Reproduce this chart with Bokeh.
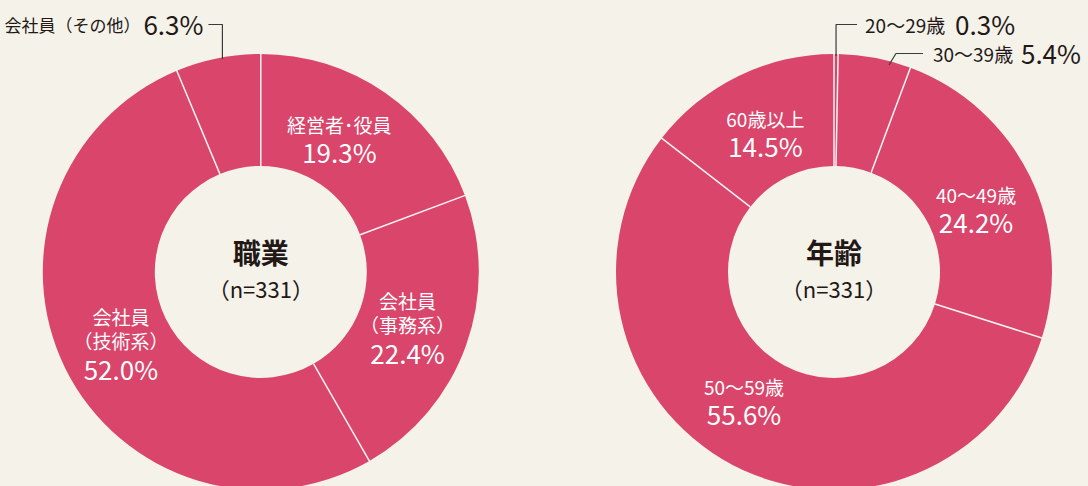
import numpy as np
from bokeh.plotting import figure
from bokeh.models import Range1d
from bokeh.core.properties import value
from bokeh.embed import file_html
from bokeh.resources import INLINE

# ---- data ----
job_names = [["経営者･役員"], ["会社員", "（事務系）"], ["会社員", "（技術系）"], ["会社員（その他）"]]
job_values = [19.3, 22.4, 52.0, 6.3]
age_names = [["20～29歳"], ["30～39歳"], ["40～49歳"], ["50～59歳"], ["60歳以上"]]
age_values = [0.3, 5.4, 24.2, 55.6, 14.5]
titles = ["職業", "年齢"]
n_text = "（n=331）"

BG = "#F5F2EA"
PINK = "#D9456B"
DARK = "#231816"
FONT = "Noto Sans CJK JP"

W, H = 1088, 486
p = figure(width=W, height=H, x_range=Range1d(0, W), y_range=Range1d(0, H),
           output_backend="svg", toolbar_location=None, min_border=0,
           background_fill_color=BG, border_fill_color=BG, outline_line_color=None)
p.axis.visible = False
p.grid.visible = False


def sy(y):
    return H - y


R_OUT, R_IN = 218, 106
LABEL_R = 156


def donut(cx, cy_screen, names, values, title, inside_idx, nudge):
    cy = sy(cy_screen)
    v = np.array(values, dtype=float)
    frac = v / v.sum()
    c1 = np.cumsum(frac)
    c0 = c1 - frac
    start = np.pi / 2 - 2 * np.pi * c0
    end = np.pi / 2 - 2 * np.pi * c1
    p.annular_wedge(x=[cx] * len(v), y=[cy] * len(v), inner_radius=R_IN, outer_radius=R_OUT,
                    start_angle=start, end_angle=end, direction="clock",
                    fill_color=PINK, line_color=None)
    # separators
    b = np.pi / 2 - 2 * np.pi * np.concatenate([[0], c1[:-1]])
    p.segment(x0=cx + R_IN * np.cos(b), y0=cy + R_IN * np.sin(b),
              x1=cx + (R_OUT + 1) * np.cos(b), y1=cy + (R_OUT + 1) * np.sin(b),
              line_color="#FBF3F3", line_width=1.5)
    # center text
    p.text(x=[cx], y=[cy + 20], text=[title], text_align="center", text_baseline="middle",
           text_font=value(FONT), text_font_size="28px", text_font_style="bold", text_color=DARK)
    p.text(x=[cx], y=[cy - 16], text=[n_text], text_align="center", text_baseline="middle",
           text_font=value(FONT), text_font_size="22px", text_color=DARK)
    mids = (c0 + c1) / 2
    for i in inside_idx:
        ang = 2 * np.pi * mids[i] + np.radians(nudge.get(i, 0))
        lx = cx + LABEL_R * np.sin(ang)
        ly = cy + LABEL_R * np.cos(ang)
        lines = names[i]
        if len(lines) == 1:
            ys = [ly + 13]
            py = ly - 14
        else:
            ys = [ly + 24, ly]
            py = ly - 28
        p.text(x=[lx] * len(lines), y=ys, text=lines, text_align="center", text_baseline="middle",
               text_font=value(FONT), text_font_size="19px", text_color="white")
        p.text(x=[lx], y=[py], text=[f"{values[i]:.1f}%"], text_align="center", text_baseline="middle",
               text_font=value(FONT), text_font_size="26px", text_color="white")
    return cx, cy, mids


# left donut
cxL, cyL, midsL = donut(260.3, 271.4, job_names, job_values, titles[0], [0, 1, 2], {0: -4.5})
# outside label: 会社員（その他）
ang = 2 * np.pi * midsL[3] + np.radians(1.2)
ax, ay = cxL + R_OUT * np.sin(ang), cyL + R_OUT * np.cos(ang)
p.line(x=[ax, ax, ax - 14], y=[ay - 2, sy(24), sy(24)], line_color="#3a3a3a", line_width=1.2)
p.text(x=[ax - 19], y=[sy(23)], text=[f"{job_values[3]:.1f}%"], text_align="right", text_baseline="middle",
       text_font=value(FONT), text_font_size="26px", text_color=DARK)
p.text(x=[ax - 82], y=[sy(24)], text=job_names[3], text_align="right", text_baseline="middle",
       text_font=value(FONT), text_font_size="17px", text_color=DARK)

# right donut
cxR, cyR, midsR = donut(833.5, 271.4, age_names, age_values, titles[1], [2, 3, 4], {2: 1.5, 3: 7.5})
# outside label 20～29歳
ang = 2 * np.pi * midsR[0]
ax, ay = cxR + R_OUT * np.sin(ang), cyR + R_OUT * np.cos(ang)
p.line(x=[ax, ax, ax + 21], y=[ay - 2, sy(24), sy(24)], line_color="#3a3a3a", line_width=1.2)
p.text(x=[ax + 29], y=[sy(24)], text=age_names[0], text_align="left", text_baseline="middle",
       text_font=value(FONT), text_font_size="19px", text_color=DARK)
p.text(x=[ax + 119], y=[sy(23)], text=[f"{age_values[0]:.1f}%"], text_align="left", text_baseline="middle",
       text_font=value(FONT), text_font_size="26px", text_color=DARK)
# outside label 30～39歳
ang = 2 * np.pi * midsR[1] + np.radians(3.8)
ax, ay = cxR + R_OUT * np.sin(ang), cyR + R_OUT * np.cos(ang)
p.line(x=[ax, ax + 7, ax + 34], y=[ay - 4, sy(53), sy(53)], line_color="#3a3a3a", line_width=1.2)
p.text(x=[ax + 44], y=[sy(53)], text=age_names[1], text_align="left", text_baseline="middle",
       text_font=value(FONT), text_font_size="19px", text_color=DARK)
p.text(x=[ax + 132], y=[sy(52)], text=[f"{age_values[1]:.1f}%"], text_align="left", text_baseline="middle",
       text_font=value(FONT), text_font_size="26px", text_color=DARK)

html = file_html(p, INLINE)
html = html.replace("<head>", "<head><style>html,body{background:" + BG + ";margin:0;}</style>", 1)
open("out.html", "w").write(html)
